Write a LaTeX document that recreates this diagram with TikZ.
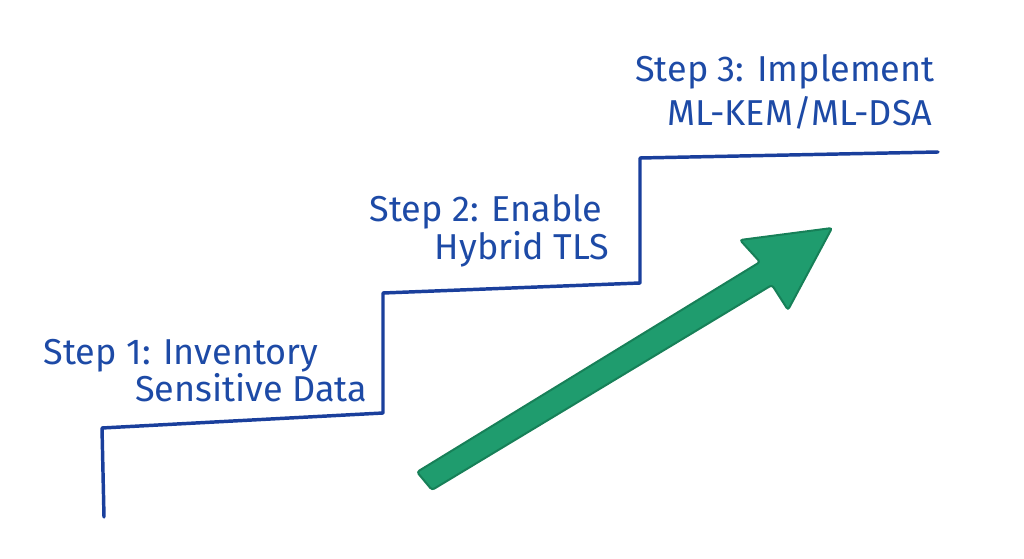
\documentclass[tikz,border=0pt]{standalone}
\usepackage{fontspec}
\setmainfont{Fira Sans}
\definecolor{inkblue}{HTML}{1D4AA6}
\definecolor{lineblue}{HTML}{1A3F9C}
\definecolor{arrowgreen}{HTML}{1F9C6E}
\definecolor{arrowedge}{HTML}{178058}
\begin{document}
\begin{tikzpicture}[x=0.75pt,y=-0.75pt,
  label/.style={text=inkblue,font=\fontsize{27}{32}\selectfont,inner sep=0pt,anchor=base},
  stair/.style={draw=lineblue,line width=2.6pt,line cap=round,line join=round},
  bigarrow/.style={fill=arrowgreen,draw=arrowedge,line width=1.5pt,rounded corners=2pt}]
\useasboundingbox (0,0) rectangle (1024,559);
% staircase
\draw[stair] (104,517) -- (102,428) -- (383,413) -- (383,293) -- (640,283) -- (640,158) -- (938,152);
% labels
\node[label] (s1a) at (181,365) {Step 1: Inventory};
\node[label] (s1b) at (251,402) {Sensitive Data};
\node[label] (s2a) at (486,222) {Step 2: Enable};
\node[label] (s2b) at (522,260) {Hybrid TLS};
\node[label] (s3a) at (785,82) {Step 3: Implement};
\node[label] (s3b) at (800,126) {ML-KEM/ML-DSA};
% arrow
\draw[bigarrow] (417,472) -- (760,262) -- (740,240) -- (832,228) -- (788,310) -- (772,285) -- (432,490) -- cycle;
\end{tikzpicture}
\end{document}
